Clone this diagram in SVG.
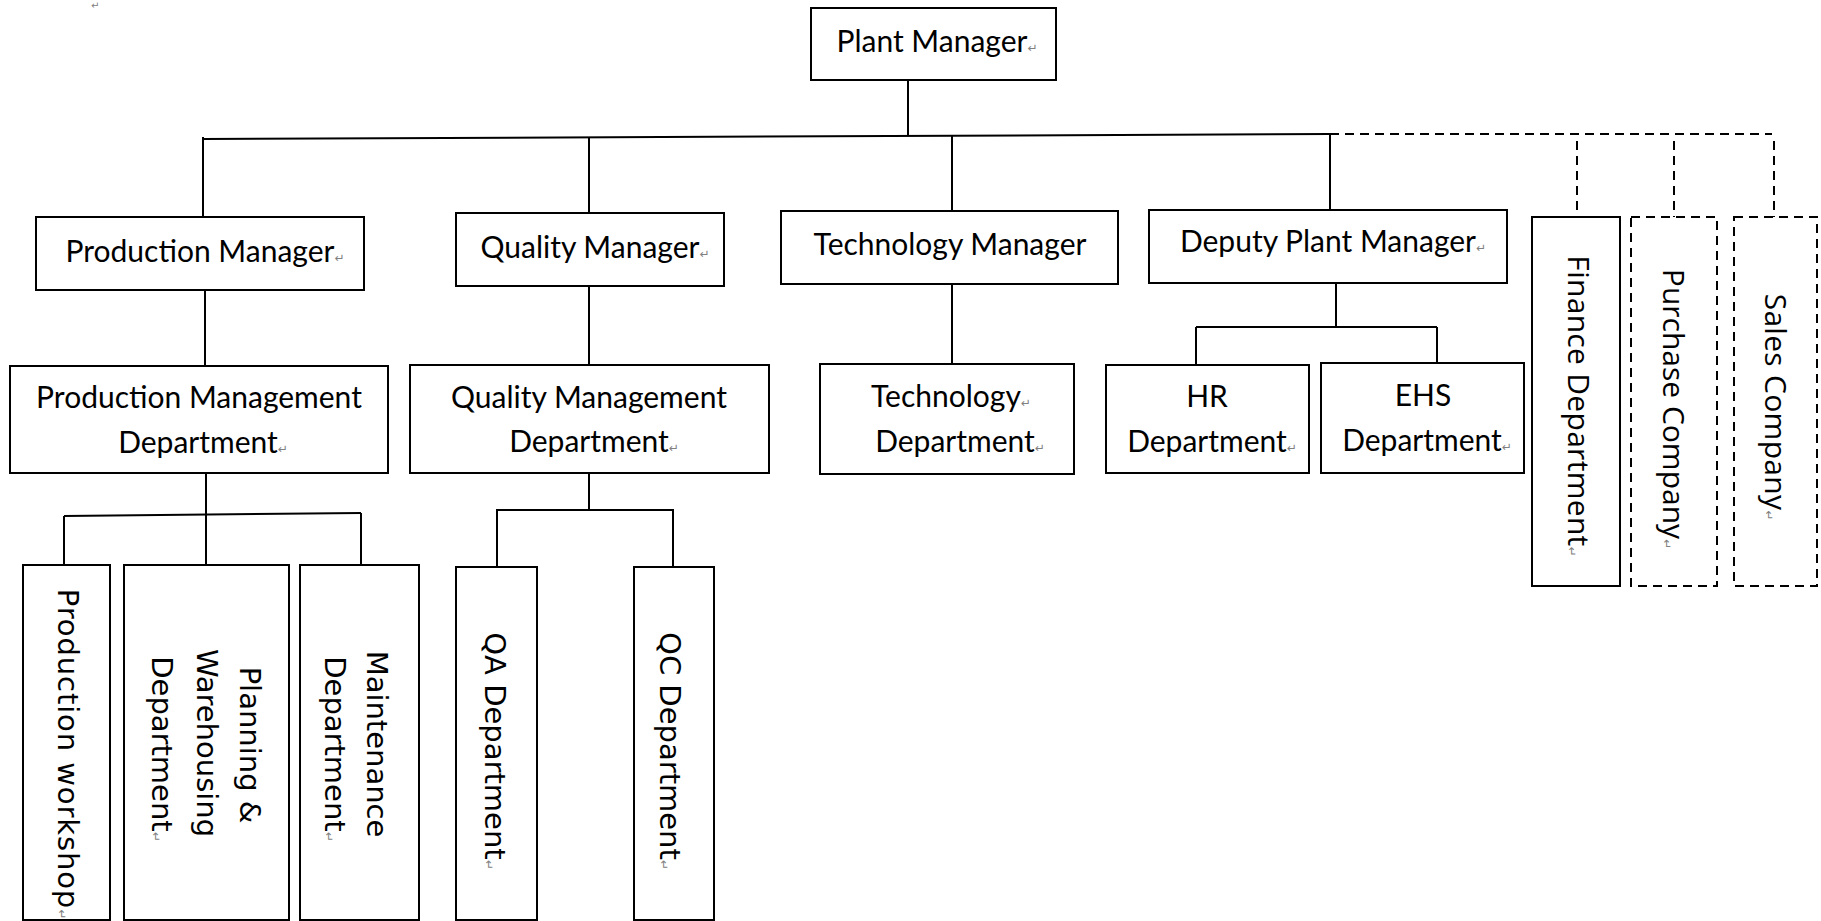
<svg xmlns="http://www.w3.org/2000/svg" width="1821" height="921" viewBox="0 0 1821 921">
<style>
  .box { fill: #ffffff; stroke: #000000; stroke-width: 2; }
  .dbox { fill: #ffffff; stroke: #000000; stroke-width: 2; stroke-dasharray: 9 6; }
  .ln { fill: none; stroke: #000000; stroke-width: 2; }
  .dln { fill: none; stroke: #000000; stroke-width: 2; stroke-dasharray: 9 6; }
  .h { font-family: Lato, "Liberation Sans", sans-serif; font-size: 30px; fill: #000000; text-anchor: middle; }
  .v { font-family: "DejaVu Sans", sans-serif; font-size: 29px; fill: #000000; text-anchor: middle; }
  .vr { font-family: "Open Sans", "DejaVu Sans", sans-serif; font-size: 30px; fill: #000000; text-anchor: middle; }
  .rm { font-family: "DejaVu Sans", sans-serif; font-size: 12px; fill: #808080; letter-spacing: 0; }
</style>
<rect x="0" y="0" width="1821" height="921" fill="#ffffff"/>
<text x="91" y="9" class="rm" style="font-size:10px">↵</text>

<g id="connectors">
  <path class="ln" d="M908,80 V136"/>
  <path class="ln" d="M203,139 L1330,134"/>
  <path class="ln" d="M203,137 V217"/>
  <path class="ln" d="M589,137 V213"/>
  <path class="ln" d="M952,135 V211"/>
  <path class="ln" d="M1330,134 V210"/>
  <path class="ln" d="M205,290 V366"/>
  <path class="ln" d="M589,286 V365"/>
  <path class="ln" d="M952,284 V364"/>
  <path class="ln" d="M1336,283 V327"/>
  <path class="ln" d="M1196,327 H1437"/>
  <path class="ln" d="M1196,327 V365"/>
  <path class="ln" d="M1437,327 V363"/>
  <path class="ln" d="M206,473 V565"/>
  <path class="ln" d="M64,516 L361,513"/>
  <path class="ln" d="M64,516 V565"/>
  <path class="ln" d="M361,513 V565"/>
  <path class="ln" d="M589,473 V510"/>
  <path class="ln" d="M497,510 H673"/>
  <path class="ln" d="M497,509 V567"/>
  <path class="ln" d="M673,509 V567"/>
  <path class="dln" d="M1330,134 H1772"/>
  <path class="dln" d="M1577,141 V217"/>
  <path class="dln" d="M1674,141 V217"/>
  <path class="dln" d="M1774,141 V217"/>
</g>

<g id="plant-manager">
  <rect class="box" x="811" y="8" width="245" height="72"/>
  <text class="h" x="937" y="52">Plant Manager<tspan class="rm">↵</tspan></text>
</g>
<g id="production-manager">
  <rect class="box" x="36" y="217" width="328" height="73"/>
  <text class="h" x="205" y="262">Production Manager<tspan class="rm">↵</tspan></text>
</g>
<g id="quality-manager">
  <rect class="box" x="456" y="213" width="268" height="73"/>
  <text class="h" x="595" y="258">Quality Manager<tspan class="rm">↵</tspan></text>
</g>
<g id="technology-manager">
  <rect class="box" x="781" y="211" width="337" height="73"/>
  <text class="h" x="950" y="255">Technology Manager</text>
</g>
<g id="deputy-plant-manager">
  <rect class="box" x="1149" y="210" width="358" height="73"/>
  <text class="h" x="1333" y="252">Deputy Plant Manager<tspan class="rm">↵</tspan></text>
</g>
<g id="finance-department">
  <rect class="box" x="1532" y="217" width="88" height="369"/>
  <text class="vr" transform="translate(1568,406) rotate(90)" style="letter-spacing:0.3px">Finance Department<tspan class="rm">↵</tspan></text>
</g>
<g id="purchase-company">
  <rect class="dbox" x="1631" y="217" width="86" height="369"/>
  <text class="vr" transform="translate(1663,409) rotate(90)">Purchase Company<tspan class="rm">↵</tspan></text>
</g>
<g id="sales-company">
  <rect class="dbox" x="1734" y="217" width="83" height="369"/>
  <text class="vr" transform="translate(1765,407) rotate(90)" style="letter-spacing:0.3px">Sales Company<tspan class="rm">↵</tspan></text>
</g>
<g id="production-management-department">
  <rect class="box" x="10" y="366" width="378" height="107"/>
  <text class="h" x="199" y="408">Production Management</text>
  <text class="h" x="203" y="453">Department<tspan class="rm">↵</tspan></text>
</g>
<g id="quality-management-department">
  <rect class="box" x="410" y="365" width="359" height="108"/>
  <text class="h" x="589" y="408">Quality Management</text>
  <text class="h" x="594" y="452">Department<tspan class="rm">↵</tspan></text>
</g>
<g id="technology-department">
  <rect class="box" x="820" y="364" width="254" height="110"/>
  <text class="h" x="951" y="407">Technology<tspan class="rm">↵</tspan></text>
  <text class="h" x="960" y="452">Department<tspan class="rm">↵</tspan></text>
</g>
<g id="hr-department">
  <rect class="box" x="1106" y="365" width="203" height="108"/>
  <text class="h" x="1207" y="407">HR</text>
  <text class="h" x="1212" y="452">Department<tspan class="rm">↵</tspan></text>
</g>
<g id="ehs-department">
  <rect class="box" x="1321" y="363" width="203" height="110"/>
  <text class="h" x="1423" y="406">EHS</text>
  <text class="h" x="1427" y="451">Department<tspan class="rm">↵</tspan></text>
</g>
<g id="production-workshop">
  <rect class="box" x="23" y="565" width="87" height="355"/>
  <text class="v" transform="translate(58,754) rotate(90)" style="letter-spacing:0.9px">Production workshop<tspan class="rm">↵</tspan></text>
</g>
<g id="planning-warehousing-department">
  <rect class="box" x="124" y="565" width="165" height="355"/>
  <text class="v" transform="translate(240,745) rotate(90)">Planning &amp;</text>
  <text class="v" transform="translate(197,743) rotate(90)">Warehousing</text>
  <text class="v" transform="translate(152,749) rotate(90)">Department<tspan class="rm">↵</tspan></text>
</g>
<g id="maintenance-department">
  <rect class="box" x="300" y="565" width="119" height="355"/>
  <text class="v" transform="translate(367,744) rotate(90)">Maintenance</text>
  <text class="v" transform="translate(325,749) rotate(90)">Department<tspan class="rm">↵</tspan></text>
</g>
<g id="qa-department">
  <rect class="box" x="456" y="567" width="81" height="353"/>
  <text class="v" transform="translate(485,751) rotate(90)">QA Department<tspan class="rm">↵</tspan></text>
</g>
<g id="qc-department">
  <rect class="box" x="634" y="567" width="80" height="353"/>
  <text class="v" transform="translate(660,751) rotate(90)">QC Department<tspan class="rm">↵</tspan></text>
</g>
</svg>
